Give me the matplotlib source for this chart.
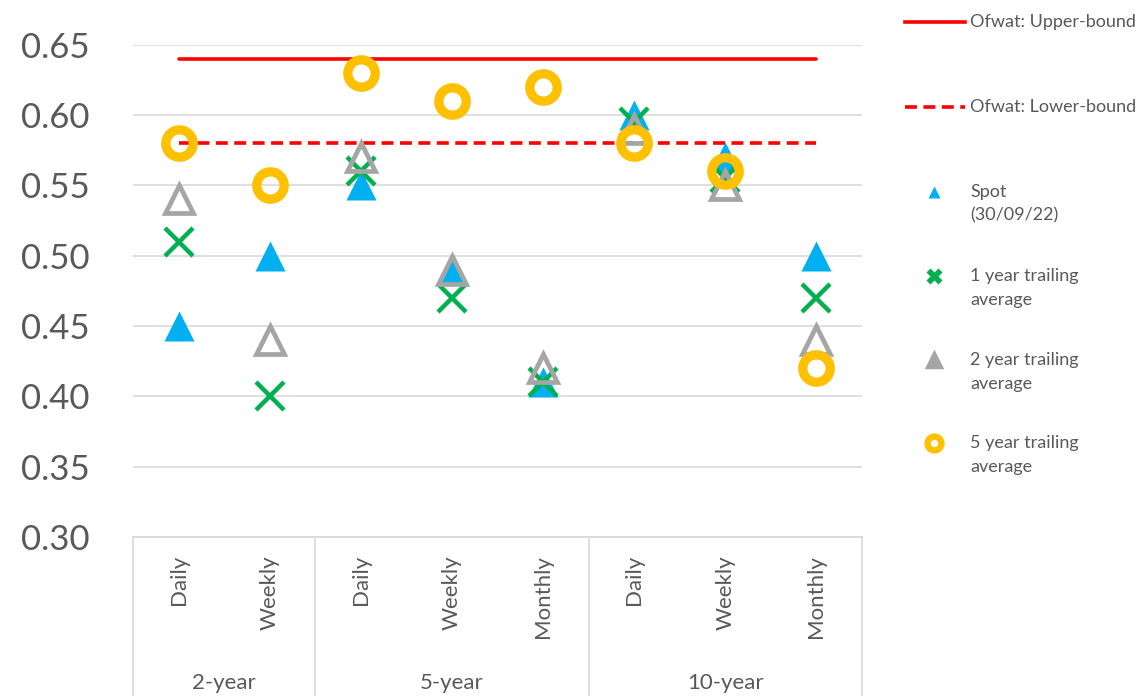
import numpy as np
import matplotlib.pyplot as plt
from matplotlib.lines import Line2D
from matplotlib.transforms import blended_transform_factory

# category axis: frequency within each maturity group
groups = ['2-year', '5-year', '10-year']
group_sizes = [2, 3, 3]
frequencies = ['Daily', 'Weekly', 'Daily', 'Weekly', 'Monthly', 'Daily', 'Weekly', 'Monthly']

spot = [0.45, 0.50, 0.55, 0.49, 0.41, 0.60, 0.57, 0.50]
trail_1y = [0.51, 0.40, 0.56, 0.47, 0.41, 0.595, 0.555, 0.47]
trail_2y = [0.54, 0.44, 0.57, 0.49, 0.42, 0.59, 0.55, 0.44]
trail_5y = [0.58, 0.55, 0.63, 0.61, 0.62, 0.58, 0.56, 0.42]

ofwat_upper = 0.64
ofwat_lower = 0.58

yticks = [0.30, 0.35, 0.40, 0.45, 0.50, 0.55, 0.60, 0.65]

TEXT = '#595959'
GRID = '#d9d9d9'
BLUE = '#00b0f0'
GREEN = '#00b050'
GREY = '#a5a5a5'
YELLOW = '#ffc000'
RED = '#ff0000'

plt.rcParams['font.family'] = ['Lato', 'DejaVu Sans']

W, H = 1148, 696
fig = plt.figure(figsize=(W / 100, H / 100), dpi=100)
ax = fig.add_axes([133 / W, 1 - 537 / H, 729 / W, 492.3 / H])

x = np.arange(len(frequencies))

# bounds
ax.plot([x[0], x[-1]], [ofwat_upper] * 2, color=RED, lw=2.6, solid_capstyle='round', zorder=2)
ax.plot([x[0], x[-1]], [ofwat_lower] * 2, color=RED, lw=2.6, dashes=(3.3, 1.8), zorder=2)

# series
ax.plot(x, spot, ls='none', marker='^', ms=21, mfc=BLUE, mec='none', zorder=3)
ax.plot(x, trail_1y, ls='none', marker='x', ms=20, mec=GREEN, mew=3.2, zorder=4)
ax.plot(x, trail_2y, ls='none', marker='^', ms=20.5, mfc='none', mec=GREY, mew=3.4,
        zorder=5)
ax.plot(x, trail_5y, ls='none', marker='o', ms=19.7, mfc='none', mec=YELLOW, mew=6.7, zorder=6)

ax.set_xlim(-0.5, len(frequencies) - 0.5)
ax.set_ylim(0.30, 0.65)
ax.set_yticks(yticks)
ax.set_yticklabels([f'{v:.2f}' for v in yticks])
ax.grid(axis='y', color=GRID, lw=1.2, zorder=0)
ax.set_axisbelow(True)
for s in ['top', 'right', 'left']:
    ax.spines[s].set_visible(False)
ax.spines['bottom'].set_color(GRID)
ax.spines['bottom'].set_linewidth(1.2)
ax.tick_params(axis='y', length=0, pad=31, labelsize=25, labelcolor=TEXT)

ax.set_xticks(x)
ax.set_xticklabels(frequencies, rotation=90)
ax.tick_params(axis='x', length=0, pad=13, labelsize=16, labelcolor=TEXT)

# multi-level category box
trans = blended_transform_factory(ax.transData, ax.transAxes)
edges = np.concatenate([[0], np.cumsum(group_sizes)]) - 0.5
for e in edges:
    ax.plot([e, e], [0, -0.4], color=GRID, lw=1.2, transform=trans, clip_on=False)
for g, lo, hi in zip(groups, edges[:-1], edges[1:]):
    ax.text((lo + hi) / 2, -0.2966, g, transform=trans, ha='center', va='center',
            fontsize=16, color=TEXT)

# legend, drawn by hand to mirror the original layout
def fx(px):
    return px / W


def fy(py):
    return 1 - py / H


fig.add_artist(Line2D([fx(905), fx(965)], [fy(21.5)] * 2, color=RED, lw=2.6,
                      transform=fig.transFigure))
fig.add_artist(Line2D([fx(905), fx(965)], [fy(106.5)] * 2, color=RED, lw=2.6,
                      dashes=(3.3, 1.8), transform=fig.transFigure))
fig.text(fx(970), fy(21.5), 'Ofwat: Upper-bound', fontsize=13, color=TEXT, va='center')
fig.text(fx(970), fy(106.5), 'Ofwat: Lower-bound', fontsize=13, color=TEXT, va='center')

legend_rows = [
    (191.5, ['Spot', '(30/09/22)'], dict(marker='^', ms=9, mfc=BLUE, mec='none')),
    (276, ['1 year trailing', 'average'], dict(marker='X', ms=12, mfc=GREEN, mec='none')),
    (360, ['2 year trailing', 'average'], dict(marker='^', ms=10, mfc=GREY, mec=GREY,
                                               mew=2.5)),
    (443, ['5 year trailing', 'average'], dict(marker='o', ms=10, mfc='white', mec=YELLOW,
                                               mew=4.6)),
]
for yy, lines, style in legend_rows:
    fig.add_artist(Line2D([fx(934)], [fy(yy)], ls='none', transform=fig.transFigure,
                          **style))
    for i, line in enumerate(lines):
        fig.text(fx(970), fy(yy + 24.3 * i), line, fontsize=13, color=TEXT, va='center')

fig.savefig('out.png', dpi=100)
